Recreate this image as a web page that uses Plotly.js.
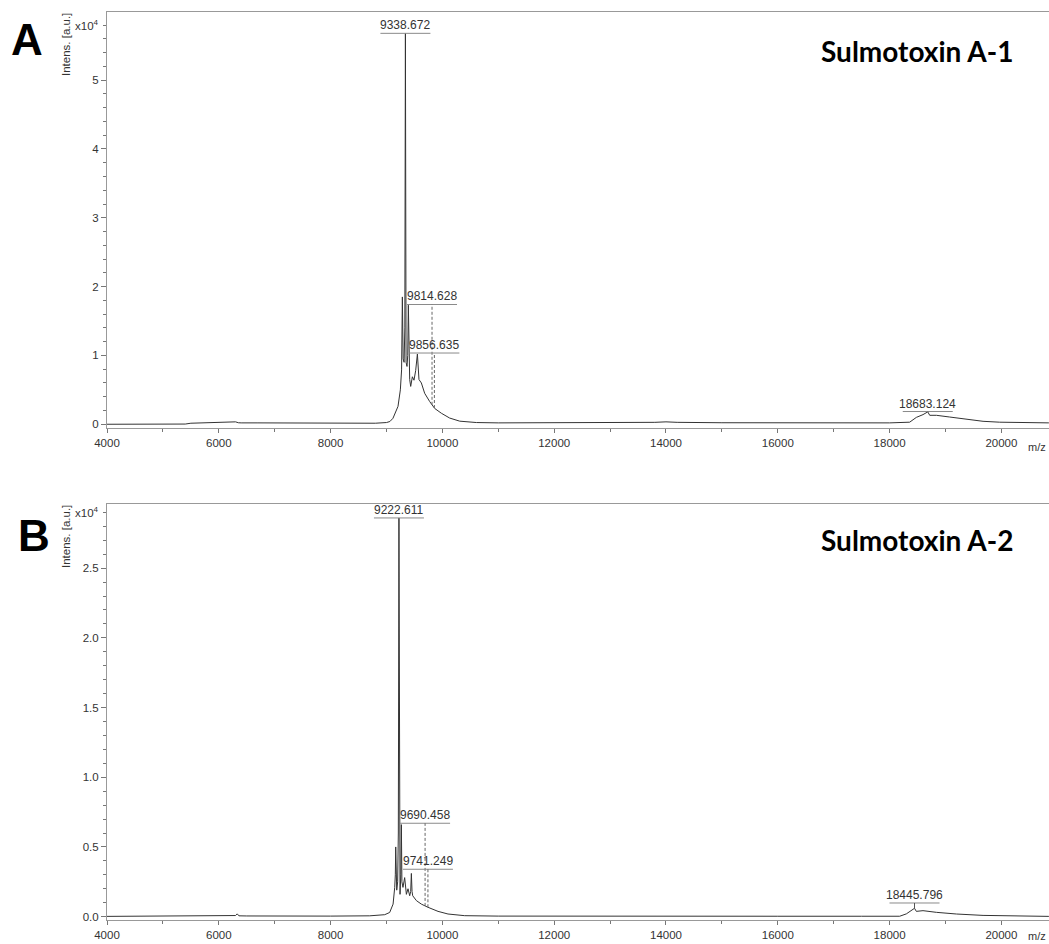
<!DOCTYPE html>
<html>
<head>
<meta charset="utf-8">
<script src="https://cdn.plot.ly/plotly-3.0.1.min.js"></script>
<style>html,body{margin:0;padding:0;background:#fff;}#chart{width:1049px;height:944px;}</style>
</head>
<body>
<div id="chart"></div>
<script>
// ---------- DATA (intensities in units of x10^4 a.u.) ----------
const mzA = [4000, 5400, 5500, 5700, 5900, 6100, 6300, 6350, 6400, 6700, 7000, 7500, 8000, 8500, 8800, 9000, 9061, 9116, 9160, 9206, 9248, 9270, 9284, 9298, 9315, 9328, 9338.672, 9350, 9367, 9380, 9391, 9402, 9415, 9433, 9463, 9492, 9522, 9553, 9568, 9581, 9624, 9683, 9773, 9862, 9982, 10130, 10310, 10608, 11000, 12000, 13000, 13800, 14000, 14200, 15000, 16000, 17000, 18000, 18359, 18479, 18598, 18683.124, 18718, 18838, 19075, 19374, 19672, 19970, 20400, 20850];
const intA = [0.0, 0.003, 0.015, 0.018, 0.02, 0.022, 0.035, 0.022, 0.02, 0.02, 0.018, 0.015, 0.012, 0.012, 0.015, 0.025, 0.04, 0.087, 0.16, 0.26, 0.50, 0.79, 1.85, 0.95, 0.90, 1.4, 5.68, 0.90, 0.84, 1.0, 1.73, 0.80, 0.65, 0.55, 0.69, 0.64, 0.78, 1.02, 0.75, 0.65, 0.60, 0.45, 0.33, 0.23, 0.16, 0.09, 0.045, 0.025, 0.02, 0.02, 0.022, 0.028, 0.035, 0.028, 0.022, 0.02, 0.02, 0.02, 0.03, 0.10, 0.14, 0.18, 0.13, 0.13, 0.105, 0.07, 0.043, 0.03, 0.022, 0.02];

const mzB = [4000, 5500, 6000, 6200, 6250, 6300, 6330, 6360, 6500, 7000, 8000, 8700, 8968, 9057, 9118, 9147, 9158, 9165, 9172, 9183, 9200, 9212, 9222.611, 9232, 9242, 9256, 9266, 9276, 9295, 9325, 9340, 9356, 9385, 9415, 9433, 9445, 9457, 9469, 9535, 9624, 9743, 9922, 10100, 10399, 11000, 12000, 14000, 16000, 17500, 18181, 18300, 18359, 18445.796, 18479, 18598, 18837, 19195, 19672, 20200, 20850];
const intB = [0.002, 0.003, 0.005, 0.008, 0.006, 0.008, 0.02, 0.006, 0.005, 0.004, 0.004, 0.006, 0.014, 0.03, 0.09, 0.21, 0.30, 0.50, 0.30, 0.19, 0.25, 0.60, 2.86, 0.40, 0.16, 0.30, 0.66, 0.25, 0.21, 0.28, 0.18, 0.16, 0.20, 0.15, 0.18, 0.31, 0.18, 0.15, 0.115, 0.09, 0.067, 0.038, 0.019, 0.007, 0.004, 0.003, 0.003, 0.003, 0.003, 0.003, 0.02, 0.036, 0.06, 0.038, 0.043, 0.031, 0.019, 0.009, 0.004, 0.002];

const peaksA = [9338.672, 9814.628, 9856.635, 18683.124];
const peaksB = [9222.611, 9690.458, 9741.249, 18445.796];

const titleA = "Sulmotoxin A-1";
const titleB = "Sulmotoxin A-2";
const yTicksA = [0, 1, 2, 3, 4, 5];
const yTicksB = [0, 0.5, 1.0, 1.5, 2.0, 2.5];
const xTicks = [4000, 6000, 8000, 10000, 12000, 14000, 16000, 18000, 20000];

// ---------- LABEL PLACEMENT (layout, axis units) ----------
const labelLayoutA = {barY: [5.68, 1.74, 1.035, 0.185], dashed: [false, true, true, false]};
const labelLayoutB = {barY: [2.86, 0.67, 0.34, 0.098], dashed: [false, true, true, false]};

function interp(xs, ys, x) {
  for (let i = 0; i < xs.length - 1; i++) {
    if (x >= xs[i] && x <= xs[i + 1]) {
      const t = (x - xs[i]) / (xs[i + 1] - xs[i]);
      return ys[i] + t * (ys[i + 1] - ys[i]);
    }
  }
  return 0;
}

const FONT = "Liberation Sans, Arial, sans-serif";
const shapes = [];
const annotations = [];

function addPeakLabels(peaks, mzs, ints, lay, xr, yr) {
  peaks.forEach((p, i) => {
    const by = lay.barY[i];
    const base = interp(mzs, ints, p);
    shapes.push({type: 'line', xref: xr, yref: yr, xsizemode: 'pixel', xanchor: p, x0: -25, x1: 25, y0: by, y1: by,
      line: {color: '#8a8a8a', width: 1}});
    if (by > base + 1e-6) {
      shapes.push({type: 'line', xref: xr, yref: yr, x0: p, x1: p, y0: base, y1: by,
        line: {color: lay.dashed[i] ? '#666' : '#555', width: 1, dash: lay.dashed[i] ? '3px,2px' : 'solid'}});
    }
    annotations.push({xref: xr, yref: yr, x: p, y: by, text: p.toFixed(3), showarrow: false,
      xanchor: 'center', yanchor: 'bottom', yshift: -1, font: {family: FONT, size: 12, color: '#333'}});
  });
}
addPeakLabels(peaksA, mzA, intA, labelLayoutA, 'x', 'y');
addPeakLabels(peaksB, mzB, intB, labelLayoutB, 'x2', 'y2');

const PW = 942; // plot width in px (1049 - 107)
function px(xpix) { return (xpix - 107) / PW; }
function py(ypix) { return 1 - ypix / 944; }

// panel letters, titles, axis labels
[['A', 27, 39, titleA, 51, 5.8, 'y', 447, 45], ['B', 34, 535, titleB, 540, 2.9, 'y2', 936, 537]].forEach(r => {
  annotations.push({xref: 'paper', yref: 'paper', x: px(r[1]), y: py(r[2]), text: '<b>' + r[0] + '</b>', showarrow: false,
    xanchor: 'center', yanchor: 'middle', font: {family: 'Liberation Sans, Arial', size: 44, color: '#000'}});
  annotations.push({xref: 'paper', yref: 'paper', x: px(917), y: py(r[4]), text: '<b>' + r[3] + '</b>', showarrow: false,
    xanchor: 'center', yanchor: 'middle', font: {family: 'Lato, Open Sans, sans-serif', size: 28, color: '#000'}});
  annotations.push({xref: 'paper', yref: r[6], x: 0, y: r[5], text: 'x10<sup>4</sup>', showarrow: false,
    xanchor: 'right', yanchor: 'middle', xshift: -6, font: {family: FONT, size: 11.5, color: '#333'}});
  annotations.push({xref: 'paper', yref: 'paper', x: px(66), y: py(r[8]), text: 'Intens. [a.u.]', showarrow: false,
    textangle: -90, xanchor: 'center', yanchor: 'middle', font: {family: FONT, size: 11.5, color: '#333'}});
  annotations.push({xref: 'paper', yref: 'paper', x: 1, y: py(r[7]), text: 'm/z', showarrow: false,
    xanchor: 'right', yanchor: 'middle', xshift: -1, font: {family: FONT, size: 11, color: '#333'}});
});

const lineStyle = {color: '#333', width: 1};
const traces = [
  {x: mzA, y: intA, type: 'scatter', mode: 'lines', line: lineStyle, xaxis: 'x', yaxis: 'y', hoverinfo: 'x+y'},
  {x: mzB, y: intB, type: 'scatter', mode: 'lines', line: lineStyle, xaxis: 'x2', yaxis: 'y2', hoverinfo: 'x+y'}
];

function xAxis(anchor) {
  return {domain: [0, 1], anchor: anchor, range: [4000, 20852], tickmode: 'array', tickvals: xTicks,
    ticktext: xTicks.map(v => String(v)),
    ticks: 'outside', ticklen: 4, tickcolor: '#777', showline: true, linecolor: '#999', linewidth: 1, mirror: true,
    showgrid: false, zeroline: false, tickfont: {family: FONT, size: 11.5, color: '#333'},
    minor: {dtick: 1000, tick0: 4000, ticks: 'outside', ticklen: 3, tickcolor: '#777', showgrid: false}};
}
function yAxis(anchor, dom, rng, vals, fmt, minorD) {
  return {domain: dom, anchor: anchor, range: rng, tickmode: 'array', tickvals: vals, ticktext: vals.map(v => v.toFixed(fmt)),
    ticks: 'outside', ticklen: 5, tickcolor: '#777', showline: true, linecolor: '#999', linewidth: 1,
    showgrid: false, zeroline: false, tickfont: {family: FONT, size: 11.5, color: '#333'},
    minor: {dtick: minorD, tick0: 0, ticks: 'outside', ticklen: 3, tickcolor: '#777', showgrid: false}};
}

const layout = {
  width: 1049, height: 944,
  margin: {l: 107, r: 0, t: 0, b: 0},
  paper_bgcolor: '#fff', plot_bgcolor: '#fff',
  showlegend: false,
  xaxis: xAxis('y'),
  yaxis: yAxis('x', [1 - 427.7 / 944, 1 - 12 / 944], [-0.05, 5.99], yTicksA, 0, 0.2),
  xaxis2: xAxis('y2'),
  yaxis2: yAxis('x2', [1 - 920 / 944, 1 - 504 / 944], [-0.024, 2.96], yTicksB, 1, 0.1),
  shapes: shapes,
  annotations: annotations
};

Plotly.newPlot('chart', traces, layout, {displayModeBar: false, responsive: false});
</script>
</body>
</html>
